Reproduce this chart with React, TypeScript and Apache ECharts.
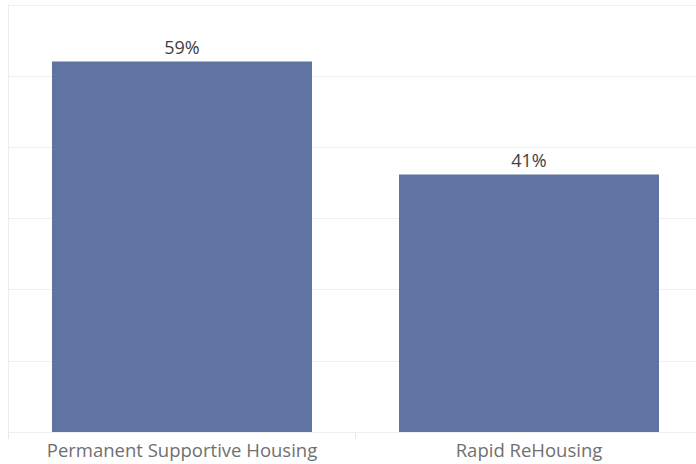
import React, { useEffect, useRef } from "react";
import * as echarts from "echarts";

const categories = ["Permanent Supportive Housing", "Rapid ReHousing"];
const values = [59, 41];
const axisMax = 68;

export default function App() {
  const ref = useRef<HTMLDivElement>(null);
  useEffect(() => {
    const chart = echarts.init(ref.current!, null, { renderer: "svg" });
    chart.setOption({
      animation: false,
      backgroundColor: "#ffffff",
      grid: {
        left: 8.5,
        width: 694,
        top: 5,
        bottom: 32,
        containLabel: false,
        outerBoundsMode: "none",
      },
      xAxis: {
        type: "category",
        data: categories,
        axisLine: { show: false },
        axisTick: { show: true, length: 7, lineStyle: { color: "#e8e8e8" } },
        axisLabel: {
          interval: 0,
          hideOverlap: false,
          color: "#707070",
          fontFamily: "Open Sans",
          fontSize: 18.5,
          margin: 8,
        },
      },
      yAxis: {
        type: "value",
        min: 0,
        max: axisMax,
        interval: axisMax / 6,
        axisLabel: { show: false },
        axisTick: { show: false },
        axisLine: { show: true, lineStyle: { color: "#ececec" } },
        splitLine: { show: true, lineStyle: { color: "#efefef" } },
      },
      series: [
        {
          type: "bar",
          data: values,
          barWidth: 260,
          itemStyle: { color: "#5f74a3" },
          label: {
            show: true,
            position: "top",
            distance: 6,
            formatter: (p: any) => p.value + "%",
            color: "#404040",
            fontFamily: "Open Sans",
            fontSize: 18,
          },
        },
      ],
    });
    return () => chart.dispose();
  }, []);
  return (
    <div
      ref={ref}
      style={{ position: "absolute", left: 0, top: 0, width: 696, height: 464 }}
    />
  );
}
